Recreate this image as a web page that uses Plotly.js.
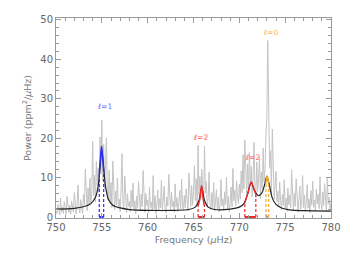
<!DOCTYPE html>
<html><head><meta charset="utf-8">
<script src="https://cdn.plot.ly/plotly-3.0.1.min.js"></script>
<style>html,body{margin:0;padding:0;background:#fff}#chart{width:347px;height:255px}</style>
</head><body><div id="chart"></div>
<script>
// Observed power spectrum, 750.0 .. 780.0 uHz in 0.1 uHz steps
const specStart = 750.0;
const specStep = 0.1;
const specPower = [
 1.5,0.8,3.2,2.1,0.5,4.8,1.2,2.6,0.9,3.9, 1.8,0.6,5.2,2.4,1.1,3.0,0.7,4.1,2.0,1.3,
 6.2,1.9,0.8,3.5,8.1,2.2,1.0,4.4,2.8,0.9, 5.7,3.1,12.2,4.0,1.6,7.4,2.9,9.8,3.3,6.1,
 19.2,5.4,10.6,3.8,14.1,8.0,12.5,6.3,20.3,11.0, 24.6,9.2,18.4,7.1,15.3,20.1,6.8,4.2,11.9,3.5,
 8.8,2.4,14.2,5.0,1.8,6.6,3.1,9.9,2.2,4.5, 1.3,7.2,16.1,3.6,2.0,10.4,4.8,1.1,5.9,2.7,
 3.9,1.4,6.8,2.5,8.6,1.9,4.1,0.8,5.3,2.2, 9.0,3.2,1.5,5.8,2.6,11.8,3.5,1.2,6.0,2.9,
 4.3,1.1,7.5,2.4,3.8,1.6,10.5,2.1,5.4,0.9, 3.2,6.9,1.7,4.6,2.3,9.3,1.4,3.7,7.8,2.0,
 1.0,5.1,2.8,10.8,3.4,1.5,6.3,2.6,4.0,1.2, 8.4,2.5,4.9,1.3,3.6,6.7,2.0,9.6,3.0,1.8,
 5.5,2.3,7.2,3.9,1.6,11.2,4.4,2.7,8.0,3.1, 6.5,13.0,4.2,9.7,2.9,18.2,5.6,10.3,4.8,12.1,
 7.4,3.0,18.0,6.1,9.0,2.5,4.7,11.4,3.3,1.9, 6.2,2.4,8.7,1.5,3.9,7.0,2.1,5.0,1.3,3.6,
 9.5,2.8,4.6,1.7,6.4,3.2,10.1,2.2,5.2,1.4, 3.8,7.6,2.5,12.3,4.1,6.8,2.9,9.2,5.0,3.4,
 8.3,4.5,11.7,6.2,15.8,7.1,19.6,9.4,5.8,13.5, 6.9,16.4,8.2,12.8,5.1,10.6,18.9,7.5,4.9,14.0,
 6.4,9.8,15.2,4.7,11.3,7.2,17.5,8.8,12.0,20.6, 25.2,44.8,30.1,12.4,16.8,6.0,22.3,9.1,4.5,7.8,
 11.6,3.9,6.5,2.6,8.9,4.2,1.8,5.7,3.0,9.4, 2.1,4.8,1.4,7.3,3.1,5.5,2.3,12.0,4.0,1.6,
 6.1,2.7,9.6,3.5,1.2,4.4,7.8,2.0,3.7,10.5, 2.4,5.6,1.7,3.9,8.2,2.2,4.6,1.1,6.7,3.0,
 9.1,2.5,4.3,1.6,7.0,3.4,5.8,2.1,10.2,3.8, 1.9,6.4,2.9,8.5,4.1,1.4,9.8,3.3,5.0,2.0,3.6
];
const specFreq = specPower.map((_, i) => +(specStart + i * specStep).toFixed(2));

// Global fit (black)
const fitFreq  = [750,752,753,753.8,754.3,754.6,754.8,755.0,755.2,755.4,755.7,756.2,757,758,760,763,764.5,765.2,765.6,765.9,766.2,766.6,767.3,769,770,770.5,770.9,771.3,771.7,772.1,772.5,772.8,773.0,773.25,773.6,774.0,774.6,775.5,777,780];
const fitPower = [2.0,2.2,2.6,3.4,5.0,7.8,12.5,17.0,12.5,7.8,4.6,3.0,2.3,1.9,1.7,1.7,1.9,2.5,4.2,7.6,4.2,2.5,1.9,2.0,2.5,3.4,5.8,8.7,6.5,5.4,6.3,8.6,10.3,8.4,4.8,3.2,2.3,1.8,1.6,1.5];

// Mode profiles
const modeLabels = ['<i>ℓ</i>=1','<i>ℓ</i>=2','<i>ℓ</i>=2','<i>ℓ</i>=0'];
const modeColors = ['#2c2cf0','#f02a2a','#f02a2a','#f7a72a'];
const labelColors = ['#6f6fff','#ff6060','#ff6060','#ffb84a'];
const labelFreq = [755.3,765.8,771.4,773.4];
const labelPower = [28,20.3,15.2,46.7];
const modeFreq = [
  [754.72,754.85,754.97,755.08,755.2],
  [765.5,765.7,765.88,766.05,766.2],
  [770.6,770.9,771.3,771.6,771.8],
  [772.9,772.97,773.03,773.1,773.2]
];
const modePower = [
  [11,15,18,15.5,11.5],
  [2.8,4.6,8.0,4.6,2.8],
  [3.6,5.8,8.9,7.0,5.8],
  [8.5,9.8,10.4,9.9,8.6]
];

const traces = [];
traces.push({x: specFreq, y: specPower, mode:'lines', line:{color:'#c4c4c4', width:1}, hoverinfo:'skip'});
traces.push({x: fitFreq, y: fitPower, mode:'lines', line:{color:'#222', width:1.2, shape:'spline', smoothing:0.8}, hoverinfo:'skip'});
modeFreq.forEach((fs, k) => {
  const ps = modePower[k];
  const c = modeColors[k];
  traces.push({x: fs, y: ps, mode:'lines', line:{color:c, width:1.4, shape:'spline'}, hoverinfo:'skip'});
  const a = fs[0], b = fs[fs.length-1];
  traces.push({x:[a,a], y:[0, ps[0]], mode:'lines', line:{color:c, width:1.2, dash:'3px,2px'}, hoverinfo:'skip'});
  traces.push({x:[b,b], y:[0, ps[ps.length-1]], mode:'lines', line:{color:c, width:1.2, dash:'3px,2px'}, hoverinfo:'skip'});
  traces.push({x:[a,b], y:[0,0], mode:'lines', line:{color:c, width:2}, cliponaxis:false, hoverinfo:'skip'});
});

const annotations = modeLabels.map((t, k) => ({
  x: labelFreq[k], y: labelPower[k], text: t, showarrow:false,
  font:{size:7.5, color:labelColors[k], family:'DejaVu Sans'}, xanchor:'center', yanchor:'middle'
}));

const axCommon = {
  showline:true, linecolor:'#9a9a9a', linewidth:1, mirror:'allticks',
  ticks:'inside', ticklen:5, tickcolor:'#9a9a9a', tickwidth:1,
  showgrid:false, zeroline:false,
  tickfont:{family:'DejaVu Sans', size:10, color:'#666'}
};

const layout = {
  width:347, height:255,
  margin:{l:56, r:16, t:18, b:37},
  paper_bgcolor:'#fff', plot_bgcolor:'#fff',
  showlegend:false,
  xaxis: Object.assign({}, axCommon, {
    range:[750,780], tickmode:'array', tickvals:[750,755,760,765,770,775,780],
    minor:{dtick:1, ticks:'inside', ticklen:3, tickcolor:'#9a9a9a', showgrid:false},
    title:{text:'Frequency (<i>μ</i>Hz)', font:{family:'DejaVu Sans', size:9.5, color:'#777'}, standoff:4}
  }),
  yaxis: Object.assign({}, axCommon, {
    range:[-0.25,50.5], tickvals:[0,10,20,30,40,50],
    minor:{dtick:2, ticks:'inside', ticklen:3, tickcolor:'#9a9a9a', showgrid:false},
    title:{text:'Power (ppm<sup>2</sup>/<i>μ</i>Hz)', font:{family:'DejaVu Sans', size:9.5, color:'#777'}, standoff:6}
  }),
  annotations: annotations
};

Plotly.newPlot('chart', traces, layout, {staticPlot:true, displayModeBar:false});
</script></body></html>
